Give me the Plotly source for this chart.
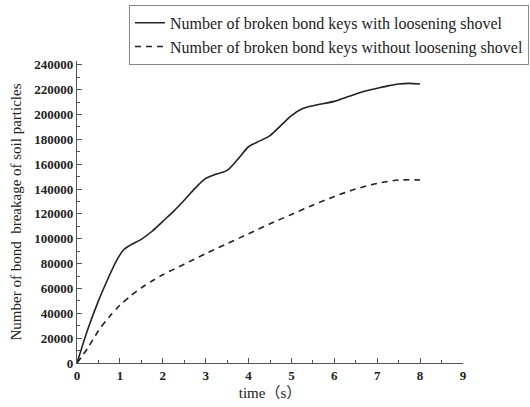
import plotly.graph_objects as go

time_with = [0, 0.25, 0.5, 0.75, 0.9, 1.0, 1.1, 1.25, 1.5, 1.75, 2.0, 2.25, 2.5, 2.75, 3.0, 3.25, 3.5,
             3.75, 4.0, 4.25, 4.5, 4.75, 5.0, 5.25, 5.5, 5.75, 6.0, 6.25, 6.5, 6.75, 7.0, 7.25,
             7.5, 7.75, 8.0]
bonds_with = [0, 27000, 50000, 70000, 81000, 87000, 91500, 95000, 99500, 106000, 114000, 122000,
              131000, 140500, 148500, 152000, 155000, 164000, 174000, 178500, 183000, 191000,
              199000, 204500, 207000, 208800, 210500, 213500, 216500, 219000, 221000, 223000,
              224500, 225000, 224500]

time_without = [0, 0.25, 0.5, 0.75, 1.0, 1.25, 1.5, 1.75, 2.0, 2.5, 3.0, 3.5, 4.0, 4.5, 5.0, 5.5,
                6.0, 6.5, 7.0, 7.5, 8.0]
bonds_without = [0, 12000, 26000, 37000, 46500, 54000, 60500, 66000, 71000, 79500, 88000, 96000,
                 104000, 112000, 119500, 127000, 134000, 140000, 144500, 147200, 147300]

name_with = "Number of broken bond keys with loosening shovel"
name_without = "Number of broken bond keys without loosening shovel"

serif = "Liberation Serif, Times New Roman, Noto Sans CJK SC, serif"
line_color = "#222222"

fig = go.Figure()
fig.add_trace(go.Scatter(x=time_with, y=bonds_with, mode="lines", name=name_with,
                         line=dict(color=line_color, width=1.6, shape="spline", smoothing=0.8)))
fig.add_trace(go.Scatter(x=time_without, y=bonds_without, mode="lines", name=name_without,
                         line=dict(color=line_color, width=1.6, dash="6px,5px", shape="spline",
                                   smoothing=0.8)))

axis_common = dict(showgrid=False, zeroline=False, showline=True, linecolor="#555555", linewidth=1.2,
                   ticks="inside", ticklen=5, tickwidth=1, tickcolor="#555555", automargin=False,
                   tickfont=dict(family=serif, size=13, color="#222222", weight="bold"))

fig.update_xaxes(range=[0, 9], dtick=1, tick0=0,
                 minor=dict(ticks="inside", ticklen=3, dtick=0.5, tickcolor="#555555"),
                 title=dict(text="time（s）", font=dict(family=serif, size=15, color="#222222"),
                            standoff=5),
                 **axis_common)
fig.update_yaxes(range=[0, 243000], dtick=20000, tick0=0, tickformat="d",
                 minor=dict(ticks="inside", ticklen=3, dtick=10000, tickcolor="#555555"),
                 title=dict(text="Number of bond  breakage of soil particles",
                            font=dict(family=serif, size=15, color="#222222"), standoff=9),
                 **axis_common)

fig.update_layout(
    width=530, height=407,
    margin=dict(l=77, r=67, t=61, b=44, autoexpand=False),
    paper_bgcolor="white", plot_bgcolor="white",
    showlegend=True,
    legend=dict(x=0.1347, y=1.186, xanchor="left", yanchor="top",
                bordercolor="#888888", borderwidth=1, bgcolor="white",
                font=dict(family=serif, size=16, color="#222222"),
                tracegroupgap=0, itemwidth=30),
)

fig.write_html("out.html")
